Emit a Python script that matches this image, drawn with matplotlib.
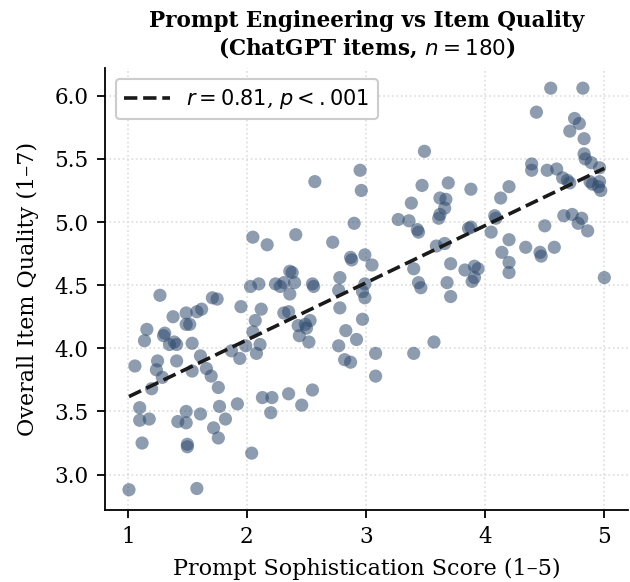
import numpy as np
import matplotlib
matplotlib.use("Agg")
import matplotlib.pyplot as plt

# Prompt sophistication score (1-5) for each ChatGPT item
sophistication = [
    1.01, 1.06, 1.10, 1.10, 1.12, 1.14, 1.16, 1.18, 1.20, 1.24,
    1.25, 1.27, 1.29, 1.31, 1.35, 1.38, 1.39, 1.41, 1.41, 1.42,
    1.49, 1.49, 1.49, 1.49, 1.52, 1.50, 1.50, 1.54, 1.54, 1.58,
    1.58, 1.61, 1.61, 1.62, 1.66, 1.70, 1.71, 1.75, 1.72, 1.76,
    1.76, 1.77, 1.82, 1.87, 1.92, 1.94, 1.95, 1.99, 2.03, 2.05,
    2.04, 2.05, 2.07, 2.08, 2.10, 2.11, 2.12, 2.13, 2.17, 2.21,
    2.20, 2.24, 2.28, 2.31, 2.31, 2.35, 2.36, 2.38, 2.36, 2.35,
    2.40, 2.41, 2.43, 2.44, 2.46, 2.49, 2.53, 2.50, 2.52, 2.55,
    2.56, 2.55, 2.57, 2.72, 2.77, 2.78, 2.78, 2.77, 2.83, 2.82,
    2.87, 2.87, 2.88, 2.90, 2.92, 2.95, 2.96, 2.97, 2.99, 2.97,
    2.99, 2.99, 3.05, 3.08, 3.08, 3.27, 3.36, 3.38, 3.40, 3.40,
    3.43, 3.44, 3.44, 3.46, 3.47, 3.49, 3.57, 3.59, 3.62, 3.67,
    3.66, 3.62, 3.61, 3.66, 3.69, 3.71, 3.68, 3.71, 3.83, 3.86,
    3.88, 3.88, 3.91, 3.94, 3.91, 3.89, 4.05, 4.08, 4.09, 4.13,
    4.14, 4.20, 4.20, 4.20, 4.20, 4.34, 4.39, 4.39, 4.43, 4.46,
    4.47, 4.50, 4.52, 4.55, 4.58, 4.60, 4.65, 4.69, 4.71, 4.66,
    4.71, 4.73, 4.75, 4.79, 4.78, 4.81, 4.82, 4.83, 4.83, 4.84,
    4.86, 4.88, 4.90, 4.89, 4.96, 4.96, 4.95, 4.97, 5.00, 1.30,
]

# Overall item quality (1-7)
quality = [
    2.88, 3.86, 3.53, 3.43, 3.25, 4.06, 4.15, 3.44, 3.68, 3.83,
    3.90, 4.42, 3.77, 4.12, 4.03, 4.25, 4.05, 4.03, 3.90, 3.42,
    3.50, 3.41, 4.28, 4.19, 4.19, 3.24, 3.22, 4.04, 3.82, 4.29,
    2.89, 3.94, 3.48, 4.31, 3.84, 3.78, 4.40, 4.39, 3.37, 3.69,
    3.29, 3.54, 3.44, 3.98, 3.56, 3.92, 4.33, 4.02, 4.49, 4.88,
    3.17, 4.13, 4.22, 3.96, 4.51, 4.03, 4.31, 3.61, 4.82, 3.61,
    3.49, 4.51, 4.49, 4.28, 4.52, 4.29, 4.61, 4.60, 4.43, 3.64,
    4.52, 4.90, 4.18, 4.10, 3.55, 4.19, 4.22, 4.16, 4.05, 4.51,
    4.49, 3.67, 5.32, 4.84, 4.46, 4.56, 4.32, 4.02, 4.14, 3.91,
    3.89, 4.72, 4.70, 4.99, 4.07, 5.41, 5.25, 4.23, 4.51, 4.45,
    4.40, 4.74, 4.66, 3.96, 3.78, 5.02, 5.01, 5.15, 4.63, 3.96,
    4.94, 4.92, 4.52, 4.48, 5.29, 5.56, 4.05, 4.81, 5.19, 5.18,
    5.11, 5.06, 5.03, 4.83, 5.31, 4.67, 4.52, 4.41, 4.62, 4.95,
    4.96, 5.26, 4.65, 4.63, 4.56, 4.53, 4.92, 5.05, 5.03, 5.19,
    4.76, 5.28, 4.86, 4.68, 4.60, 4.80, 5.46, 5.41, 5.87, 4.76,
    4.73, 4.97, 5.41, 6.06, 4.80, 5.42, 5.35, 5.33, 5.31, 5.05,
    5.72, 5.06, 5.82, 5.78, 4.99, 5.03, 6.06, 5.66, 5.54, 5.50,
    4.93, 5.32, 5.30, 5.47, 5.43, 5.32, 5.28, 5.25, 4.56, 4.10,
]

x = np.array(sophistication)
y = np.array(quality)

plt.rcParams['font.family'] = 'DejaVu Serif'
plt.rcParams['mathtext.fontset'] = 'dejavusans'

fig = plt.figure(figsize=(6.3, 5.82), dpi=100)
ax = fig.add_axes([0.167, 0.124, 0.830, 0.759])

ax.grid(True, linestyle=':', color='#dddddd', linewidth=1.2)
ax.set_axisbelow(True)

ax.scatter(x, y, s=90, color='#2f4b6e', alpha=0.55, edgecolors='none', zorder=2)

# least-squares fit line
slope, intercept = np.polyfit(x, y, 1)
xs = np.array([x.min(), x.max()])
ax.plot(xs, slope * xs + intercept, color='#1a1a1a', linestyle='--', linewidth=2.6,
        label=r'$r = 0.81$, $p < .001$', zorder=3)

ax.set_xticks([1, 2, 3, 4, 5])
ax.set_yticks([3.0, 3.5, 4.0, 4.5, 5.0, 5.5, 6.0])
ax.yaxis.set_major_formatter(matplotlib.ticker.FormatStrFormatter('%.1f'))
ax.tick_params(axis='both', labelsize=15.5, length=6, width=1.3, direction='out', pad=6)

for side in ['top', 'right']:
    ax.spines[side].set_visible(False)
for side in ['left', 'bottom']:
    ax.spines[side].set_linewidth(1.3)

ax.set_xlabel('Prompt Sophistication Score (1–5)', fontsize=16, labelpad=7)
ax.set_ylabel('Overall Item Quality (1–7)', fontsize=16, labelpad=11)
ax.set_title('Prompt Engineering vs Item Quality\n(ChatGPT items, $n = 180$)',
             fontsize=15.5, fontweight='bold', pad=10, linespacing=1.15)

leg = ax.legend(loc='upper left', fontsize=15, frameon=True, fancybox=True,
                edgecolor='#cccccc', framealpha=1.0, handlelength=2.2)
leg.get_frame().set_linewidth(1.5)

fig.savefig('out.png', dpi=100)
